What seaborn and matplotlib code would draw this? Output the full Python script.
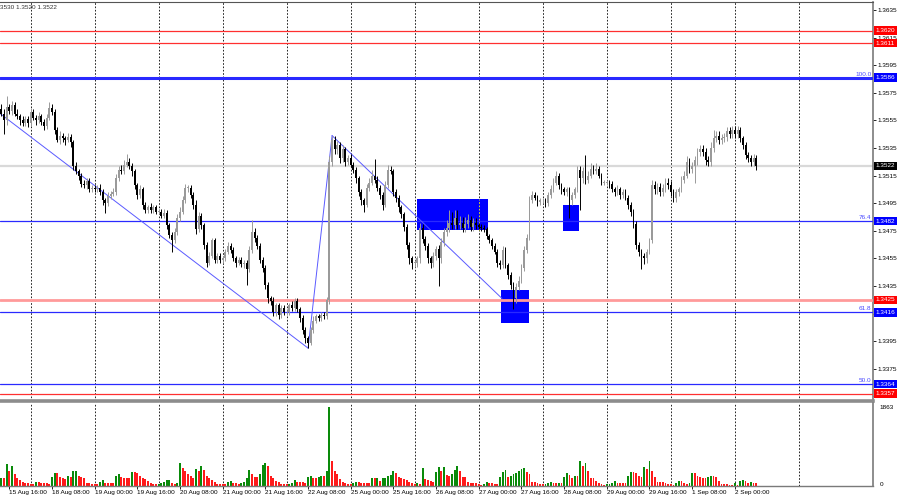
import numpy as np
import pandas as pd
import matplotlib
matplotlib.use("Agg")
import matplotlib.pyplot as plt
import seaborn as sns
from matplotlib.patches import Rectangle
from matplotlib.transforms import blended_transform_factory

sns.set_theme(style="white")
plt.rcParams["font.family"] = ["Liberation Sans", "DejaVu Sans"]

# ---------------- data (H1 candles, 15 Aug 13:00 .. 2 Sep 08:00) ----------------
open_first = 1.3563
close_15aug = [1.3560, 1.3555, 1.3565, 1.3562, 1.3566, 1.3560, 1.3558, 1.3555, 1.3553, 1.3556, 1.3553]
close_18aug = [1.3561, 1.3557, 1.3555, 1.3558, 1.3554, 1.3551, 1.3557, 1.3564, 1.3561, 1.3548, 1.3541, 1.3544,
               1.3542, 1.3541, 1.3543, 1.3539, 1.3522, 1.3518, 1.3515, 1.3509, 1.3508, 1.3511, 1.3505, 1.3506]
close_19aug = [1.3505, 1.3506, 1.3503, 1.3497, 1.3495, 1.3500, 1.3502, 1.3503, 1.3513, 1.3519, 1.3518, 1.3523,
               1.3525, 1.3522, 1.3518, 1.3508, 1.3501, 1.3505, 1.3494, 1.3490, 1.3492, 1.3490, 1.3492, 1.3489]
close_20aug = [1.3489, 1.3486, 1.3488, 1.3479, 1.3472, 1.3468, 1.3474, 1.3484, 1.3489, 1.3497, 1.3506, 1.3506,
               1.3501, 1.3494, 1.3476, 1.3486, 1.3479, 1.3465, 1.3452, 1.3457, 1.3468, 1.3454, 1.3457, 1.3454]
close_21aug = [1.3455, 1.3460, 1.3464, 1.3461, 1.3455, 1.3452, 1.3454, 1.3451, 1.3452, 1.3447, 1.3461, 1.3474,
               1.3470, 1.3464, 1.3454, 1.3448, 1.3436, 1.3426, 1.3424, 1.3416, 1.3421, 1.3414, 1.3419, 1.3416]
close_22aug = [1.3416, 1.3421, 1.3419, 1.3424, 1.3418, 1.3412, 1.3403, 1.3397, 1.3394, 1.3403, 1.3410, 1.3413,
               1.3412, 1.3414, 1.3413, 1.3425, 1.3525, 1.3541, 1.3534, 1.3537, 1.3528, 1.3534, 1.3525, 1.3528]
close_25aug = [1.3523, 1.3519, 1.3513, 1.3503, 1.3497, 1.3494, 1.3506, 1.3510, 1.3515, 1.3512, 1.3506, 1.3501,
               1.3494, 1.3508, 1.3519, 1.3518, 1.3503, 1.3499, 1.3492, 1.3487, 1.3478, 1.3465, 1.3455, 1.3452]
close_26aug = [1.3452, 1.3455, 1.3477, 1.3469, 1.3464, 1.3455, 1.3452, 1.3457, 1.3462, 1.3455, 1.3467, 1.3474,
               1.3477, 1.3481, 1.3479, 1.3484, 1.3479, 1.3481, 1.3477, 1.3480, 1.3483, 1.3478, 1.3481, 1.3479]
close_27aug = [1.3478, 1.3477, 1.3476, 1.3471, 1.3468, 1.3464, 1.3460, 1.3452, 1.3450, 1.3461, 1.3450, 1.3443,
               1.3436, 1.3426, 1.3434, 1.3439, 1.3448, 1.3461, 1.3470, 1.3497, 1.3501, 1.3499, 1.3496, 1.3497]
close_28aug = [1.3497, 1.3495, 1.3501, 1.3505, 1.3510, 1.3515, 1.3508, 1.3505, 1.3503, 1.3505, 1.3497, 1.3501,
               1.3505, 1.3519, 1.3513, 1.3518, 1.3512, 1.3515, 1.3520, 1.3518, 1.3520, 1.3515, 1.3510, 1.3510]
close_29aug = [1.3510, 1.3509, 1.3505, 1.3503, 1.3505, 1.3501, 1.3503, 1.3499, 1.3494, 1.3489, 1.3480, 1.3465,
               1.3460, 1.3457, 1.3455, 1.3460, 1.3468, 1.3508, 1.3505, 1.3507, 1.3503, 1.3506, 1.3510, 1.3508]
close_01sep = [1.3503, 1.3499, 1.3503, 1.3505, 1.3512, 1.3515, 1.3525, 1.3520, 1.3522, 1.3526, 1.3532, 1.3534,
               1.3532, 1.3526, 1.3525, 1.3535, 1.3542, 1.3544, 1.3541, 1.3542, 1.3543, 1.3547, 1.3545, 1.3548]
close_02sep = [1.3545, 1.3548, 1.3542, 1.3537, 1.3530, 1.3528, 1.3525, 1.3528, 1.3522]

# upper / lower wicks beyond the body, in pips
wick_up = [4, 3, 8, 2, 3, 2, 3, 2, 3, 2, 2,
           3, 2, 2, 3, 2, 2, 3, 4, 3, 2, 2, 3, 2, 2, 3, 2, 2, 3, 2, 2, 3, 2, 2, 2,
           2, 2, 3, 2, 2, 3, 2, 3, 3, 3, 4, 3, 6, 3, 2, 2, 2, 3, 2, 2, 2, 3, 2, 2,
           2, 2, 3, 2, 2, 2, 3, 3, 3, 3, 3, 2, 2, 2, 3, 3, 2, 2, 2, 3, 2, 2, 2, 2,
           2, 2, 3, 2, 2, 2, 2, 2, 2, 2, 3, 9, 3, 2, 2, 2, 2, 2, 2, 3, 2, 2, 2, 2,
           2, 2, 3, 2, 2, 2, 2, 2, 2, 2, 3, 2, 2, 2, 2, 2, 4, 3, 3, 3, 2, 3, 2, 2,
           3, 2, 2, 2, 2, 2, 3, 3, 4, 12, 3, 2, 2, 3, 4, 3, 2, 2, 2, 2, 2, 2, 2, 2,
           2, 2, 4, 3, 2, 2, 2, 3, 2, 3, 3, 3, 6, 9, 8, 6, 6, 5, 4, 5, 4, 3, 3, 3,
           2, 2, 2, 2, 2, 2, 2, 2, 2, 3, 2, 2, 2, 2, 3, 3, 3, 3, 3, 3, 3, 2, 2, 2,
           2, 2, 2, 3, 3, 3, 2, 2, 2, 2, 2, 2, 2, 3, 3, 3, 12, 3, 4, 3, 4, 2, 2, 2,
           2, 2, 2, 2, 3, 2, 2, 2, 2, 2, 2, 2, 2, 2, 2, 2, 2, 4, 3, 3, 3, 3, 3, 3,
           3, 2, 2, 2, 3, 3, 4, 3, 3, 3, 3, 3, 3, 3, 3, 4, 6, 3, 3, 3, 3, 3, 3, 3,
           3, 3, 2, 2, 2, 2, 2, 3, 2]
wick_dn = [2, 10, 3, 2, 3, 2, 2, 3, 2, 2, 3,
           2, 2, 3, 2, 2, 3, 2, 2, 2, 3, 2, 3, 3, 4, 2, 3, 3, 2, 3, 2, 2, 3, 2, 2,
           2, 2, 2, 3, 7, 2, 2, 2, 2, 2, 2, 2, 2, 2, 3, 3, 3, 2, 3, 2, 2, 2, 2, 2,
           2, 2, 2, 3, 2, 8, 2, 2, 2, 2, 2, 3, 2, 3, 3, 2, 3, 3, 3, 2, 2, 2, 2, 2,
           2, 2, 2, 2, 2, 3, 2, 2, 3, 11, 2, 2, 3, 2, 2, 3, 3, 3, 3, 3, 3, 3, 2, 2,
           2, 2, 2, 2, 2, 3, 3, 3, 4, 2, 2, 2, 2, 2, 2, 2, 3, 3, 3, 3, 4, 3, 3, 2,
           2, 2, 3, 3, 3, 5, 2, 2, 2, 2, 2, 3, 4, 2, 2, 2, 3, 3, 3, 3, 3, 3, 4, 5,
           3, 3, 3, 3, 3, 3, 4, 3, 3, 20, 3, 3, 3, 3, 3, 3, 3, 3, 3, 3, 3, 3, 3, 3,
           2, 2, 2, 2, 2, 2, 2, 3, 3, 2, 2, 3, 3, 8, 3, 2, 2, 2, 2, 2, 2, 2, 3, 2,
           2, 3, 2, 2, 2, 2, 3, 3, 2, 3, 13, 3, 2, 2, 23, 3, 3, 2, 2, 2, 2, 2, 2, 2,
           2, 3, 2, 3, 2, 3, 2, 2, 3, 3, 3, 3, 3, 10, 4, 3, 2, 2, 3, 3, 3, 3, 3, 3,
           3, 3, 3, 3, 2, 2, 2, 3, 3, 12, 3, 3, 3, 3, 3, 3, 3, 3, 3, 3, 3, 3, 3, 3,
           3, 3, 3, 3, 3, 3, 3, 3, 3]

vol_15aug = [200, 180, 520, 360, 480, 280, 180, 140, 100, 70, 70]
vol_18aug = [56, 56, 88, 88, 72, 72, 72, 56, 216, 296, 296, 216, 184, 160, 240, 216, 344, 360, 232, 216, 184, 80, 72, 56]
vol_19aug = [56, 56, 104, 152, 80, 72, 72, 72, 232, 280, 216, 200, 184, 184, 328, 328, 296, 240, 200, 160, 120, 80, 56, 40]
vol_20aug = [56, 72, 104, 136, 152, 80, 56, 80, 536, 424, 344, 280, 240, 200, 392, 360, 480, 376, 240, 200, 136, 104, 56, 40]
vol_21aug = [40, 40, 104, 120, 80, 72, 56, 80, 104, 184, 376, 280, 216, 216, 280, 504, 536, 480, 240, 184, 120, 88, 56, 40]
vol_22aug = [40, 56, 72, 136, 88, 88, 88, 80, 216, 240, 184, 184, 216, 240, 240, 344, 1863, 584, 360, 280, 160, 88, 80, 56]
vol_25aug = [56, 80, 104, 104, 80, 80, 80, 72, 184, 184, 200, 120, 184, 200, 240, 264, 360, 296, 216, 184, 160, 136, 104, 80]
vol_26aug = [56, 72, 40, 424, 160, 136, 120, 104, 320, 456, 360, 440, 264, 240, 280, 384, 464, 344, 216, 216, 104, 80, 80, 72]
vol_27aug = [40, 24, 56, 104, 80, 72, 56, 40, 216, 320, 384, 216, 240, 280, 296, 344, 400, 424, 320, 280, 104, 104, 80, 56]
vol_28aug = [40, 56, 80, 104, 80, 72, 80, 72, 216, 296, 264, 184, 240, 240, 600, 480, 536, 344, 184, 184, 120, 80, 56, 24]
vol_29aug = [40, 56, 80, 120, 72, 72, 72, 72, 240, 320, 320, 296, 240, 216, 456, 400, 600, 360, 216, 104, 104, 104, 72, 56]
vol_01sep = [40, 24, 72, 120, 120, 80, 56, 72, 296, 296, 240, 216, 184, 184, 216, 240, 240, 216, 120, 56, 40, 40, 24, 24]
vol_02sep = [80, 24, 120, 136, 120, 72, 88, 72, 72]

# bar index of each day's 00:00 (grid lines)
day_starts = [11, 35, 59, 83, 107, 131, 155, 179, 203, 227, 251, 275, 299]
time_label_idx = [3, 19, 35, 51, 67, 83, 99, 115, 131, 147, 163, 179, 195, 211, 227, 243, 259, 275]
time_labels = ["15 Aug 16:00", "18 Aug 08:00", "19 Aug 00:00", "19 Aug 16:00", "20 Aug 08:00",
               "21 Aug 00:00", "21 Aug 16:00", "22 Aug 08:00", "25 Aug 00:00", "25 Aug 16:00",
               "26 Aug 08:00", "27 Aug 00:00", "27 Aug 16:00", "28 Aug 08:00", "29 Aug 00:00",
               "29 Aug 16:00", "1 Sep 08:00", "2 Sep 00:00"]

fib_levels = [1.3586, 1.3482, 1.3416, 1.3364]
fib_names = ["100.0", "76.4", "61.8", "50.0"]
red_levels = [1.3620, 1.3611, 1.3357]
support_level = 1.3425
bid_price = 1.3522
header_text = "3530 1.3520 1.3522"
vol_max_label = 1863
hidden_tick = 1.3415   # axis label covered by the 1.3416 tag in the reference

# trend lines (bar index, price)
trend_lines = [((-0.5, 1.3560), (115, 1.3390)),
               ((115, 1.3390), (124, 1.3544)),
               ((124, 1.3544), (187.7, 1.3426))]
# zones (bar from, bar to, price low, price high)
zones = [(155.8, 182.5, 1.34756, 1.34980),
         (187.5, 197.7, 1.34080, 1.34321),
         (210.7, 216.7, 1.34749, 1.34937)]

# ---------------- build ----------------
close = np.array(close_15aug + close_18aug + close_19aug + close_20aug + close_21aug + close_22aug +
                 close_25aug + close_26aug + close_27aug + close_28aug + close_29aug + close_01sep + close_02sep)
vol = np.array(vol_15aug + vol_18aug + vol_19aug + vol_20aug + vol_21aug + vol_22aug +
               vol_25aug + vol_26aug + vol_27aug + vol_28aug + vol_29aug + vol_01sep + vol_02sep)
n = len(close)
idx = np.arange(n)
opn = np.r_[open_first, close[:-1]]
hi = np.maximum(opn, close) + np.array(wick_up[:n]) * 1e-4
lo = np.minimum(opn, close) - np.array(wick_dn[:n]) * 1e-4
bull = close >= opn
ccol = np.where(bull, "#9a9a9a", "#000000")

fig = plt.figure(figsize=(9, 5), dpi=100)
fig.patch.set_facecolor("white")
ax = fig.add_axes([0, 99 / 500, 873 / 900, 399 / 500])
axv = fig.add_axes([0, 14 / 500, 873 / 900, 83 / 500])

XL = (-0.51, 326.8)
ax.set_xlim(*XL)
ax.set_ylim(1.33517, 1.36408)
axv.set_xlim(*XL)

# grid
for g in day_starts:
    ax.axvline(g, color="black", lw=0.6, ls=(0, (2, 2)), zorder=1)
    axv.axvline(g, color="black", lw=0.6, ls=(0, (2, 2)), zorder=0.5)

# zones
for x0, x1, p0, p1 in zones:
    ax.add_patch(Rectangle((x0, p0), x1 - x0, p1 - p0, facecolor="#0000ff", edgecolor="none", zorder=2))
ax.vlines(179, zones[0][2], zones[0][3], colors="#ffff00", lw=0.6, ls=(0, (2, 2)), zorder=2.2)

# horizontal levels
ax.axhline(bid_price, color="#d9d9d9", lw=1.6, zorder=1.5)
for lv in fib_levels:
    ax.axhline(lv, color="#2a2aff", lw=2.2 if lv == fib_levels[0] else 0.9, zorder=3)
for lv in red_levels:
    ax.axhline(lv, color="#ff3030", lw=0.9, zorder=3)
ax.axhline(support_level, color="#ff9a9a", lw=2.0, zorder=3)

# trend lines
for (xa, ya), (xb, yb) in trend_lines:
    ax.plot([xa, xb], [ya, yb], color="#5a5aff", lw=0.7, zorder=3.2)

# candles
ax.vlines(idx, lo, hi, colors=ccol, lw=0.7, zorder=4)
body = np.maximum(np.abs(close - opn), 0.00005)
ax.bar(idx, body, bottom=np.minimum(opn, close), width=0.72, color=ccol, linewidth=0, zorder=5)

# volumes
vdir = np.r_[True, vol[1:] > vol[:-1]]
dfv = pd.DataFrame({"i": idx, "v": vol, "d": np.where(vdir, "up", "down")})
sns.barplot(data=dfv, x="i", y="v", hue="d", palette={"up": "#0a8a0a", "down": "#ff1a1a"},
            native_scale=True, dodge=False, width=0.72, errorbar=None, saturation=1,
            legend=False, ax=axv, linewidth=0)
axv.set_xlim(*XL)
axv.set_ylim(0, vol_max_label * 82 / 78)
axv.set_xlabel("")
axv.set_ylabel("")

# axes styling
for a in (ax, axv):
    a.set_facecolor("white")
    a.spines["left"].set_visible(False)
ax.spines["right"].set_color("#7a7a7a")
ax.spines["right"].set_linewidth(1.2)
ax.spines["top"].set_color("#555555")
ax.spines["top"].set_linewidth(0.8)
ax.spines["bottom"].set_color("#8c8c8c")
ax.spines["bottom"].set_linewidth(2.6)
axv.spines["top"].set_visible(False)
axv.spines["right"].set_color("#7a7a7a")
axv.spines["right"].set_linewidth(1.2)
axv.spines["bottom"].set_color("#7a7a7a")
axv.spines["bottom"].set_linewidth(1.0)

ax.yaxis.tick_right()
yt = np.round(np.arange(1.3355, 1.36351, 0.002), 4)
ax.set_yticks(yt)
ax.set_yticklabels(["" if abs(v - hidden_tick) < 1e-6 else f"{v:.4f}" for v in yt])
ax.tick_params(axis="y", right=True, length=2, width=0.6, pad=1.5, labelsize=4.6, colors="black")
ax.set_xticks([])

axv.set_yticks([])
axv.set_xticks(time_label_idx)
axv.set_xticklabels(time_labels, ha="left")
axv.tick_params(axis="x", bottom=True, length=2, width=0.6, pad=1.2, labelsize=4.6, colors="black")

ytr = blended_transform_factory(ax.transAxes, ax.transData)
# price tags
tags = [(1.3620, "#ff0000"), (1.3611, "#ff0000"), (1.3586, "#0000ff"), (bid_price, "#000000"),
        (1.3482, "#0000ff"), (support_level, "#ff0000"), (1.3416, "#0000ff"), (1.3364, "#0000ff"),
        (1.3357, "#ff0000")]
for p, c in tags:
    ax.text(1.003, p, f"{p:.4f}", transform=ytr, ha="left", va="center", fontsize=4.6, color="white",
            clip_on=False, zorder=10,
            bbox=dict(boxstyle="square,pad=0.28", facecolor=c, edgecolor="none"))
for lv, nm in zip(fib_levels, fib_names):
    ax.text(0.998, lv + 0.00008, nm, transform=ytr, ha="right", va="bottom", fontsize=4.6,
            color="#4a4aff", zorder=6)

ax.text(0.0, 0.992, header_text, transform=ax.transAxes, ha="left", va="top", fontsize=4.6,
        color="#333333", zorder=6)
vtr = blended_transform_factory(axv.transAxes, axv.transData)
axv.text(1.008, vol_max_label, str(vol_max_label), transform=vtr, ha="left", va="center", fontsize=4.6,
         color="black", clip_on=False)
axv.text(1.008, 30, "0", transform=vtr, ha="left", va="center", fontsize=4.6, color="black", clip_on=False)

fig.savefig("out.png", dpi=100)
